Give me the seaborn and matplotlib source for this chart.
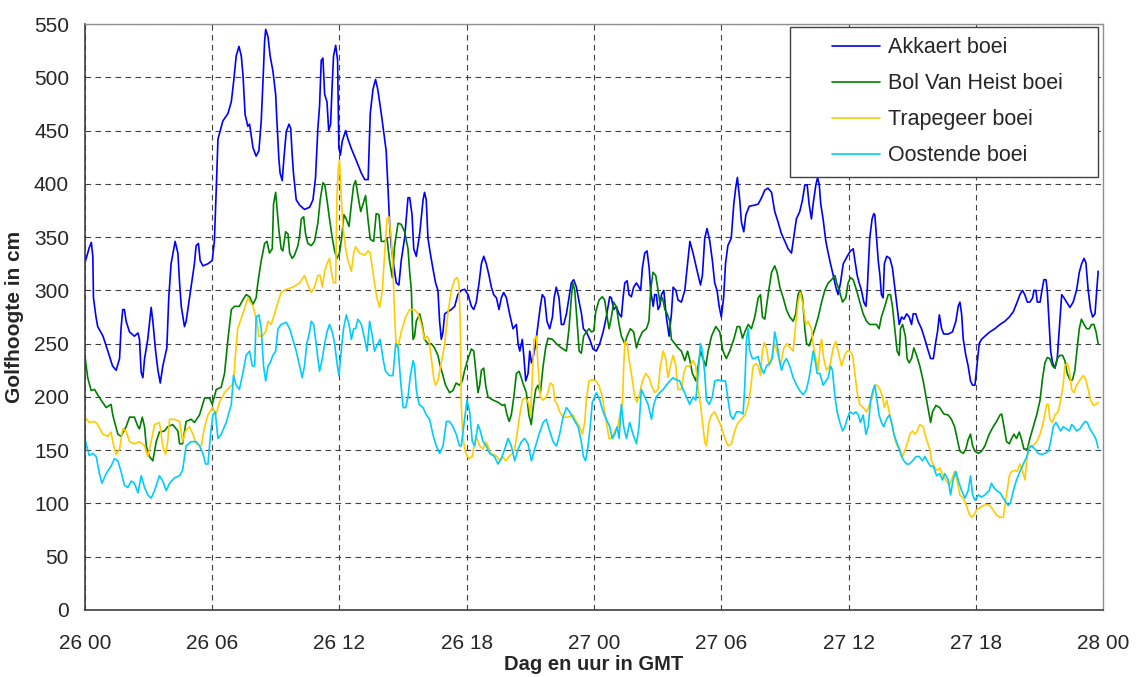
import pandas as pd
import matplotlib
matplotlib.use("Agg")
import matplotlib.pyplot as plt
from matplotlib.patches import Rectangle
import seaborn as sns

# uren sinds 26 00 GMT en golfhoogte (cm)
akkaert_uur = [0.0, 0.2, 0.3, 0.37, 0.4, 0.52, 0.6, 0.85, 1.08, 1.3, 1.47, 1.63, 1.7, 1.78, 1.86, 1.94, 2.1, 2.33, 2.5, 2.57,
               2.65, 2.73, 2.81, 2.96, 3.12, 3.2, 3.33, 3.44, 3.55, 3.67, 3.86, 3.95, 4.06, 4.25, 4.38, 4.46, 4.54, 4.69, 4.77, 4.93,
               5.16, 5.24, 5.35, 5.43, 5.56, 5.8, 6.0, 6.1, 6.19, 6.27, 6.5, 6.74, 6.9, 7.02, 7.13, 7.26, 7.37, 7.45, 7.55, 7.68,
               7.76, 7.92, 8.07, 8.2, 8.31, 8.39, 8.47, 8.52, 8.63, 8.73, 8.86, 8.99, 9.05, 9.14, 9.2, 9.3, 9.38, 9.49, 9.62, 9.7,
               9.77, 9.83, 9.96, 10.12, 10.35, 10.59, 10.75, 10.87, 10.98, 11.06, 11.14, 11.22, 11.3, 11.41, 11.49, 11.58, 11.66, 11.72, 11.82, 11.91,
               11.97, 12.04, 12.13, 12.29, 12.4, 12.56, 12.79, 13.03, 13.19, 13.35, 13.45, 13.58, 13.7, 13.81, 13.97, 14.08, 14.2, 14.28, 14.36, 14.44,
               14.57, 14.68, 14.8, 14.91, 15.07, 15.23, 15.31, 15.42, 15.5, 15.62, 15.78, 15.94, 16.01, 16.09, 16.17, 16.28, 16.4, 16.53, 16.64, 16.72,
               16.8, 16.88, 16.96, 17.11, 17.27, 17.43, 17.58, 17.74, 17.9, 18.06, 18.22, 18.33, 18.45, 18.58, 18.69, 18.8, 18.92, 19.05, 19.16, 19.27,
               19.4, 19.52, 19.63, 19.74, 19.87, 20.02, 20.18, 20.34, 20.42, 20.5, 20.62, 20.7, 20.78, 20.89, 20.97, 21.05, 21.12, 21.25, 21.36, 21.47,
               21.56, 21.67, 21.78, 21.91, 22.04, 22.12, 22.22, 22.35, 22.46, 22.57, 22.7, 22.82, 22.93, 23.04, 23.17, 23.3, 23.41, 23.5, 23.64, 23.8,
               23.95, 24.11, 24.27, 24.43, 24.58, 24.74, 24.82, 24.93, 25.05, 25.18, 25.29, 25.37, 25.45, 25.56, 25.65, 25.76, 25.87, 26.0, 26.12, 26.2,
               26.28, 26.39, 26.5, 26.6, 26.67, 26.79, 26.86, 26.94, 27.02, 27.1, 27.18, 27.29, 27.41, 27.54, 27.65, 27.73, 27.86, 27.96, 28.12, 28.28,
               28.39, 28.52, 28.67, 28.83, 29.02, 29.11, 29.22, 29.33, 29.46, 29.58, 29.69, 29.8, 29.9, 30.0, 30.11, 30.2, 30.31, 30.47, 30.59, 30.68,
               30.76, 30.87, 30.95, 31.06, 31.16, 31.32, 31.58, 31.74, 31.9, 32.05, 32.2, 32.37, 32.52, 32.68, 32.84, 33.0, 33.15, 33.31, 33.39, 33.54,
               33.7, 33.83, 33.94, 34.05, 34.14, 34.25, 34.33, 34.46, 34.54, 34.62, 34.69, 34.8, 34.93, 35.04, 35.15, 35.28, 35.4, 35.51, 35.62, 35.75,
               35.94, 36.09, 36.22, 36.3, 36.41, 36.5, 36.61, 36.72, 36.82, 36.88, 37.0, 37.11, 37.19, 37.24, 37.32, 37.4, 37.48, 37.55, 37.63, 37.69,
               37.8, 37.95, 38.07, 38.18, 38.29, 38.39, 38.5, 38.61, 38.74, 38.86, 38.97, 39.05, 39.17, 39.28, 39.44, 39.6, 39.76, 39.87, 40.0, 40.1,
               40.2, 40.28, 40.39, 40.49, 40.7, 40.9, 41.06, 41.17, 41.25, 41.33, 41.41, 41.53, 41.64, 41.75, 41.85, 41.96, 42.07, 42.16, 42.27, 42.43,
               42.66, 42.9, 43.14, 43.37, 43.58, 43.77, 43.95, 44.08, 44.2, 44.31, 44.43, 44.55, 44.68, 44.74, 44.83, 44.9, 45.03, 45.12, 45.21, 45.31,
               45.37, 45.45, 45.53, 45.62, 45.73, 45.84, 45.94, 46.05, 46.16, 46.28, 46.44, 46.59, 46.75, 46.88, 46.99, 47.1, 47.19, 47.3, 47.41, 47.51,
               47.62, 47.7, 47.77]
akkaert_cm = [326, 340, 345, 332, 293, 275, 266, 257, 243, 229, 225, 236, 264, 282, 282, 271, 261, 257, 260, 254,
              223, 218, 236, 254, 284, 271, 243, 225, 213, 229, 246, 293, 325, 346, 335, 307, 285, 266, 271, 293,
              325, 342, 344, 328, 323, 325, 328, 346, 395, 442, 459, 466, 477, 498, 520, 529, 520, 502, 465, 454,
              456, 434, 426, 431, 459, 495, 534, 545, 538, 520, 506, 484, 459, 424, 410, 403, 424, 449, 456, 452,
              427, 410, 385, 380, 376, 378, 385, 406, 452, 473, 516, 518, 484, 477, 450, 456, 495, 520, 530, 516,
              434, 427, 440, 450, 442, 433, 422, 410, 404, 404, 466, 489, 498, 488, 466, 449, 431, 399, 364, 342,
              321, 307, 305, 328, 349, 387, 387, 371, 339, 332, 353, 385, 392, 385, 349, 335, 321, 307, 300, 271,
              254, 261, 278, 280, 282, 285, 296, 300, 301, 296, 285, 282, 289, 307, 325, 332, 325, 314, 303, 296,
              293, 282, 293, 298, 293, 278, 264, 268, 250, 243, 254, 236, 215, 222, 243, 232, 236, 250, 268, 285,
              296, 293, 271, 264, 275, 293, 303, 293, 268, 268, 278, 293, 307, 310, 303, 289, 278, 264, 261, 254,
              245, 243, 250, 261, 275, 294, 293, 282, 285, 278, 275, 293, 307, 309, 296, 294, 303, 307, 303, 300,
              321, 335, 337, 321, 300, 285, 296, 296, 282, 285, 296, 300, 275, 257, 278, 303, 300, 291, 289, 300,
              321, 346, 335, 321, 305, 314, 349, 358, 346, 328, 307, 300, 285, 275, 293, 325, 342, 349, 381, 396,
              406, 385, 364, 355, 371, 379, 380, 381, 387, 394, 396, 392, 374, 364, 353, 346, 339, 335, 346, 367,
              374, 385, 399, 399, 381, 367, 381, 399, 406, 399, 381, 367, 346, 335, 325, 314, 303, 296, 307, 325,
              332, 337, 339, 328, 314, 307, 300, 289, 285, 300, 349, 367, 372, 371, 349, 328, 314, 296, 293, 325,
              332, 330, 321, 303, 285, 268, 275, 273, 278, 275, 268, 278, 278, 271, 264, 254, 243, 236, 236, 250,
              262, 277, 264, 259, 259, 261, 271, 285, 289, 278, 254, 239, 229, 215, 211, 211, 232, 250, 254, 257,
              261, 264, 268, 271, 275, 280, 289, 296, 300, 296, 289, 289, 293, 300, 300, 289, 289, 300, 310, 310,
              300, 271, 243, 232, 227, 236, 264, 296, 293, 289, 284, 289, 300, 317, 325, 330, 326, 300, 282, 275,
              278, 300, 318]

bolvanheist_uur = [0.0, 0.13, 0.29, 0.45, 0.6, 0.76, 1.0, 1.23, 1.31, 1.55, 1.7, 1.94, 2.1, 2.33, 2.5, 2.57, 2.7, 2.81, 2.89, 3.04,
                   3.2, 3.36, 3.51, 3.75, 3.9, 4.14, 4.38, 4.46, 4.6, 4.77, 5.0, 5.16, 5.4, 5.64, 5.87, 6.0, 6.19, 6.42, 6.58, 6.74,
                   6.9, 7.05, 7.28, 7.44, 7.6, 7.76, 7.92, 8.07, 8.15, 8.31, 8.47, 8.58, 8.7, 8.83, 8.89, 8.99, 9.05, 9.14, 9.25, 9.33,
                   9.46, 9.57, 9.65, 9.77, 9.88, 10.04, 10.12, 10.2, 10.31, 10.4, 10.51, 10.67, 10.82, 10.98, 11.09, 11.22, 11.31, 11.41, 11.53, 11.66,
                   11.77, 11.88, 12.0, 12.1, 12.21, 12.32, 12.45, 12.56, 12.67, 12.76, 12.87, 13.0, 13.11, 13.23, 13.34, 13.45, 13.61, 13.73, 13.86, 13.97,
                   14.13, 14.24, 14.36, 14.49, 14.6, 14.76, 14.91, 15.07, 15.23, 15.31, 15.39, 15.43, 15.47, 15.54, 15.62, 15.78, 15.9, 16.01, 16.17, 16.33,
                   16.48, 16.64, 16.75, 16.85, 17.0, 17.19, 17.35, 17.5, 17.66, 17.79, 17.9, 18.06, 18.22, 18.33, 18.42, 18.53, 18.61, 18.69, 18.8, 18.89,
                   19.0, 19.24, 19.47, 19.68, 19.79, 19.9, 20.0, 20.1, 20.22, 20.34, 20.47, 20.57, 20.68, 20.81, 20.93, 21.04, 21.15, 21.25, 21.36, 21.47,
                   21.6, 21.72, 21.83, 22.04, 22.22, 22.46, 22.7, 22.82, 22.93, 23.0, 23.09, 23.2, 23.3, 23.4, 23.51, 23.64, 23.76, 23.88, 23.99, 24.08,
                   24.24, 24.39, 24.5, 24.62, 24.71, 24.82, 24.93, 25.06, 25.18, 25.29, 25.45, 25.56, 25.71, 25.87, 26.0, 26.12, 26.28, 26.47, 26.59, 26.67,
                   26.78, 26.91, 27.02, 27.1, 27.23, 27.34, 27.45, 27.57, 27.65, 27.81, 27.96, 28.12, 28.28, 28.41, 28.5, 28.64, 28.8, 28.91, 29.02, 29.14,
                   29.27, 29.38, 29.54, 29.74, 29.93, 30.08, 30.24, 30.4, 30.59, 30.75, 30.87, 31.0, 31.11, 31.27, 31.42, 31.58, 31.74, 31.85, 31.94, 32.05,
                   32.21, 32.37, 32.52, 32.63, 32.76, 32.92, 33.07, 33.23, 33.39, 33.51, 33.62, 33.73, 33.83, 33.94, 34.02, 34.14, 34.25, 34.41, 34.57, 34.73,
                   34.88, 35.04, 35.2, 35.36, 35.44, 35.56, 35.72, 35.87, 35.98, 36.09, 36.22, 36.38, 36.53, 36.69, 36.85, 37.0, 37.16, 37.32, 37.44, 37.55,
                   37.71, 37.87, 37.98, 38.07, 38.18, 38.29, 38.39, 38.45, 38.55, 38.68, 38.76, 38.86, 38.97, 39.08, 39.21, 39.36, 39.52, 39.68, 39.81, 39.87,
                   39.96, 40.12, 40.3, 40.49, 40.7, 40.85, 41.0, 41.12, 41.25, 41.41, 41.53, 41.64, 41.75, 41.85, 41.96, 42.12, 42.27, 42.43, 42.63, 42.82,
                   42.98, 43.14, 43.22, 43.33, 43.45, 43.58, 43.69, 43.8, 43.92, 44.05, 44.16, 44.27, 44.43, 44.55, 44.71, 44.87, 45.03, 45.15, 45.26, 45.37,
                   45.49, 45.62, 45.73, 45.84, 45.97, 46.09, 46.2, 46.31, 46.44, 46.56, 46.67, 46.78, 46.88, 46.98, 47.1, 47.23, 47.35, 47.46, 47.57, 47.67,
                   47.77]
bolvanheist_cm = [238, 218, 206, 207, 202, 197, 190, 193, 183, 165, 163, 172, 181, 181, 172, 170, 181, 172, 154, 144,
                  140, 158, 167, 168, 172, 174, 168, 156, 156, 177, 179, 176, 183, 199, 199, 193, 207, 209, 222, 254,
                  282, 285, 285, 291, 296, 294, 287, 293, 307, 328, 344, 346, 335, 339, 381, 392, 378, 357, 339, 337,
                  355, 353, 335, 330, 333, 342, 351, 367, 369, 353, 344, 342, 346, 363, 385, 401, 399, 385, 367, 349,
                  337, 330, 335, 349, 371, 367, 360, 381, 399, 403, 389, 374, 381, 389, 367, 348, 346, 372, 371, 346,
                  346, 349, 328, 312, 342, 363, 362, 355, 339, 317, 300, 271, 254, 257, 271, 278, 268, 254, 250, 250,
                  246, 239, 229, 222, 211, 204, 206, 213, 211, 215, 225, 236, 245, 243, 225, 204, 211, 225, 227, 211,
                  200, 197, 195, 192, 193, 183, 177, 183, 200, 222, 224, 218, 211, 204, 183, 174, 193, 207, 211, 204,
                  229, 246, 255, 254, 250, 246, 243, 264, 293, 307, 300, 271, 243, 241, 257, 261, 264, 261, 262, 280,
                  291, 294, 291, 275, 264, 275, 289, 284, 268, 257, 250, 257, 264, 261, 246, 254, 261, 264, 271, 300,
                  317, 314, 300, 289, 293, 282, 278, 271, 254, 250, 246, 243, 234, 243, 236, 222, 215, 229, 243, 236,
                  229, 243, 257, 266, 261, 243, 236, 243, 254, 266, 266, 255, 261, 268, 264, 275, 293, 296, 275, 273,
                  296, 317, 323, 317, 303, 293, 282, 275, 271, 278, 296, 300, 293, 264, 250, 248, 254, 264, 275, 289,
                  300, 307, 310, 314, 307, 300, 289, 293, 307, 312, 310, 300, 289, 278, 271, 268, 268, 268, 264, 275,
                  285, 296, 296, 285, 264, 243, 239, 264, 268, 257, 236, 232, 236, 246, 239, 229, 215, 197, 183, 176,
                  186, 192, 190, 184, 183, 179, 172, 161, 149, 147, 151, 160, 165, 154, 149, 147, 149, 154, 165, 172,
                  177, 183, 184, 172, 158, 156, 161, 165, 161, 167, 160, 151, 151, 161, 172, 183, 197, 218, 232, 237,
                  236, 229, 227, 236, 239, 239, 234, 222, 216, 216, 225, 246, 264, 273, 268, 264, 264, 268, 268, 261,
                  250]

trapegeer_uur = [0.0, 0.2, 0.45, 0.6, 0.84, 1.08, 1.23, 1.31, 1.47, 1.63, 1.78, 1.94, 2.1, 2.33, 2.57, 2.81, 2.96, 3.12, 3.28, 3.51,
                 3.67, 3.8, 3.9, 3.99, 4.22, 4.46, 4.6, 4.74, 4.93, 5.09, 5.24, 5.48, 5.64, 5.8, 6.0, 6.19, 6.34, 6.58, 6.9, 7.0,
                 7.08, 7.2, 7.44, 7.68, 7.92, 8.11, 8.2, 8.36, 8.52, 8.63, 8.78, 8.94, 9.1, 9.25, 9.49, 9.8, 10.12, 10.35, 10.51, 10.67,
                 10.82, 10.98, 11.09, 11.19, 11.3, 11.41, 11.53, 11.61, 11.72, 11.82, 11.88, 11.94, 12.0, 12.08, 12.16, 12.29, 12.4, 12.56, 12.67, 12.76,
                 12.95, 13.19, 13.35, 13.45, 13.55, 13.65, 13.76, 13.89, 14.02, 14.13, 14.24, 14.33, 14.44, 14.52, 14.6, 14.68, 14.76, 14.91, 15.12, 15.31,
                 15.54, 15.7, 15.86, 16.01, 16.12, 16.22, 16.33, 16.44, 16.53, 16.64, 16.8, 16.96, 17.11, 17.27, 17.43, 17.54, 17.63, 17.7, 17.74, 17.82,
                 17.95, 18.1, 18.26, 18.37, 18.48, 18.61, 18.77, 18.89, 19.0, 19.11, 19.27, 19.43, 19.55, 19.68, 19.84, 19.99, 20.15, 20.26, 20.37, 20.5,
                 20.62, 20.73, 20.84, 20.93, 21.01, 21.1, 21.17, 21.28, 21.36, 21.47, 21.6, 21.72, 21.83, 21.94, 22.07, 22.15, 22.26, 22.38, 22.54, 22.78,
                 23.01, 23.17, 23.32, 23.45, 23.56, 23.64, 23.76, 23.92, 24.08, 24.23, 24.39, 24.5, 24.62, 24.71, 24.82, 24.98, 25.13, 25.24, 25.34, 25.4,
                 25.46, 25.56, 25.65, 25.76, 25.92, 26.03, 26.16, 26.28, 26.44, 26.6, 26.7, 26.86, 27.02, 27.13, 27.26, 27.38, 27.49, 27.6, 27.73, 27.86,
                 27.96, 28.12, 28.23, 28.35, 28.51, 28.67, 28.8, 28.91, 29.02, 29.14, 29.22, 29.3, 29.42, 29.54, 29.69, 29.85, 30.0, 30.17, 30.32, 30.48,
                 30.63, 30.79, 30.95, 31.11, 31.27, 31.38, 31.5, 31.63, 31.74, 31.85, 31.94, 32.03, 32.14, 32.26, 32.37, 32.52, 32.68, 32.79, 32.95, 33.1,
                 33.26, 33.39, 33.51, 33.62, 33.73, 33.86, 33.98, 34.09, 34.25, 34.33, 34.46, 34.57, 34.65, 34.73, 34.83, 34.96, 35.12, 35.28, 35.4, 35.51,
                 35.67, 35.82, 35.93, 36.06, 36.19, 36.3, 36.41, 36.53, 36.69, 36.85, 37.0, 37.13, 37.24, 37.35, 37.48, 37.6, 37.69, 37.8, 37.95, 38.07,
                 38.18, 38.29, 38.42, 38.55, 38.68, 38.79, 38.89, 39.02, 39.13, 39.24, 39.36, 39.52, 39.6, 39.71, 39.83, 39.91, 40.07, 40.15, 40.3, 40.46,
                 40.62, 40.75, 40.86, 41.0, 41.12, 41.25, 41.41, 41.56, 41.69, 41.8, 41.91, 42.04, 42.2, 42.35, 42.5, 42.66, 42.82, 42.98, 43.14, 43.3,
                 43.37, 43.45, 43.58, 43.69, 43.84, 43.95, 44.08, 44.2, 44.32, 44.4, 44.52, 44.71, 44.87, 45.03, 45.18, 45.34, 45.42, 45.49, 45.62, 45.73,
                 45.89, 46.0, 46.12, 46.2, 46.31, 46.41, 46.52, 46.63, 46.75, 46.91, 47.07, 47.19, 47.3, 47.41, 47.54, 47.67, 47.77]
trapegeer_cm = [181, 176, 177, 174, 165, 163, 167, 158, 146, 151, 170, 168, 158, 156, 158, 154, 144, 158, 174, 176,
                154, 146, 158, 179, 179, 177, 158, 168, 172, 165, 156, 154, 172, 183, 190, 184, 195, 204, 211, 211,
                236, 264, 278, 293, 285, 271, 257, 257, 261, 271, 268, 278, 289, 298, 301, 303, 307, 314, 305, 298,
                303, 314, 314, 303, 318, 325, 330, 318, 307, 307, 389, 413, 422, 389, 360, 339, 328, 318, 335, 341,
                335, 333, 337, 335, 321, 307, 293, 284, 300, 335, 367, 369, 349, 321, 275, 247, 247, 261, 275, 282,
                282, 278, 268, 254, 257, 254, 236, 218, 211, 215, 232, 250, 278, 300, 310, 312, 307, 264, 193, 161,
                147, 142, 144, 158, 161, 154, 151, 158, 154, 147, 146, 144, 140, 144, 140, 144, 147, 151, 165, 183,
                197, 199, 197, 193, 183, 222, 254, 257, 229, 200, 197, 199, 204, 213, 211, 197, 193, 186, 181, 181,
                183, 177, 172, 165, 176, 197, 215, 216, 215, 211, 200, 186, 172, 161, 161, 168, 172, 186, 193, 229,
                252, 250, 236, 222, 200, 195, 204, 215, 222, 218, 211, 204, 207, 229, 243, 236, 218, 229, 239, 229,
                207, 207, 222, 229, 229, 234, 229, 207, 193, 172, 158, 154, 176, 183, 186, 179, 172, 161, 154, 156,
                168, 176, 179, 183, 193, 207, 229, 231, 229, 220, 243, 251, 245, 229, 236, 250, 239, 229, 246, 250,
                246, 243, 268, 289, 298, 285, 268, 271, 264, 250, 236, 225, 246, 254, 236, 225, 229, 246, 252, 243,
                229, 239, 243, 243, 239, 222, 204, 193, 190, 186, 193, 200, 211, 211, 207, 200, 190, 197, 183, 172,
                161, 154, 151, 144, 151, 158, 165, 168, 165, 168, 174, 172, 165, 158, 151, 140, 134, 131, 133, 126,
                121, 117, 122, 130, 121, 108, 105, 98, 90, 87, 89, 94, 96, 98, 99, 98, 94, 89, 87, 87,
                98, 108, 126, 130, 131, 130, 137, 131, 122, 140, 154, 154, 158, 165, 176, 193, 193, 179, 176, 183,
                186, 197, 211, 229, 232, 225, 207, 204, 211, 216, 220, 216, 207, 197, 192, 193, 195]

oostende_uur = [0.0, 0.2, 0.37, 0.53, 0.68, 0.8, 1.0, 1.23, 1.39, 1.55, 1.7, 1.86, 2.02, 2.18, 2.33, 2.5, 2.65, 2.81, 2.96, 3.12,
                3.28, 3.51, 3.67, 3.83, 3.99, 4.22, 4.46, 4.6, 4.77, 5.0, 5.24, 5.4, 5.56, 5.69, 5.8, 5.92, 6.03, 6.14, 6.27, 6.42,
                6.66, 6.9, 7.0, 7.13, 7.28, 7.44, 7.6, 7.76, 7.89, 8.0, 8.07, 8.2, 8.31, 8.42, 8.52, 8.63, 8.73, 8.86, 8.99, 9.1,
                9.25, 9.49, 9.65, 9.8, 9.96, 10.12, 10.24, 10.35, 10.46, 10.59, 10.67, 10.78, 10.9, 10.98, 11.06, 11.19, 11.3, 11.41, 11.53, 11.66,
                11.77, 11.88, 11.97, 12.08, 12.19, 12.32, 12.45, 12.56, 12.67, 12.76, 12.87, 13.03, 13.19, 13.3, 13.42, 13.55, 13.65, 13.81, 13.92, 14.05,
                14.17, 14.36, 14.52, 14.65, 14.76, 14.87, 15.0, 15.12, 15.23, 15.34, 15.47, 15.54, 15.62, 15.75, 15.94, 16.09, 16.25, 16.4, 16.56, 16.72,
                16.88, 17.04, 17.19, 17.35, 17.5, 17.66, 17.74, 17.9, 18.01, 18.14, 18.26, 18.37, 18.53, 18.64, 18.77, 18.92, 19.08, 19.31, 19.47, 19.63,
                19.79, 19.95, 20.1, 20.26, 20.42, 20.58, 20.73, 20.89, 21.05, 21.2, 21.41, 21.6, 21.75, 21.91, 22.07, 22.23, 22.38, 22.54, 22.7, 22.85,
                23.04, 23.25, 23.4, 23.5, 23.6, 23.72, 23.82, 23.92, 24.11, 24.27, 24.43, 24.58, 24.74, 24.86, 24.98, 25.09, 25.18, 25.29, 25.4, 25.53,
                25.68, 25.84, 26.0, 26.12, 26.23, 26.39, 26.55, 26.71, 26.82, 26.94, 27.1, 27.26, 27.41, 27.57, 27.73, 27.88, 28.04, 28.2, 28.36, 28.51,
                28.67, 28.8, 28.91, 29.02, 29.11, 29.22, 29.3, 29.43, 29.58, 29.69, 29.85, 30.0, 30.2, 30.32, 30.43, 30.56, 30.72, 30.87, 31.03, 31.11,
                31.19, 31.27, 31.34, 31.47, 31.58, 31.74, 31.85, 32.0, 32.13, 32.29, 32.4, 32.52, 32.63, 32.73, 32.84, 32.95, 33.07, 33.23, 33.39, 33.55,
                33.7, 33.86, 34.02, 34.14, 34.25, 34.33, 34.41, 34.52, 34.65, 34.8, 34.93, 35.04, 35.15, 35.24, 35.36, 35.46, 35.59, 35.72, 35.83, 35.93,
                36.06, 36.22, 36.35, 36.46, 36.56, 36.69, 36.82, 36.93, 37.04, 37.16, 37.24, 37.32, 37.44, 37.55, 37.66, 37.79, 37.92, 38.03, 38.14, 38.26,
                38.39, 38.5, 38.61, 38.74, 38.86, 39.02, 39.18, 39.33, 39.49, 39.6, 39.76, 39.87, 40.0, 40.15, 40.3, 40.43, 40.54, 40.7, 40.81, 40.93,
                41.06, 41.17, 41.33, 41.49, 41.64, 41.75, 41.85, 41.96, 42.12, 42.27, 42.43, 42.63, 42.74, 42.85, 42.98, 43.14, 43.3, 43.42, 43.53, 43.64,
                43.77, 43.92, 44.08, 44.24, 44.4, 44.52, 44.63, 44.79, 44.94, 45.1, 45.26, 45.42, 45.53, 45.65, 45.78, 45.89, 46.0, 46.12, 46.28, 46.41,
                46.52, 46.63, 46.75, 46.91, 47.04, 47.15, 47.26, 47.38, 47.54, 47.67, 47.77]
oostende_cm = [160, 145, 147, 144, 128, 119, 128, 135, 142, 140, 130, 117, 115, 121, 119, 110, 126, 115, 108, 105,
               112, 126, 121, 112, 119, 124, 126, 131, 154, 158, 158, 154, 147, 137, 137, 165, 183, 186, 161, 165,
               176, 193, 220, 211, 207, 222, 239, 243, 229, 229, 275, 277, 264, 229, 215, 229, 232, 239, 243, 264,
               268, 270, 264, 254, 243, 229, 218, 229, 250, 261, 271, 268, 250, 236, 224, 236, 250, 261, 268, 261,
               250, 232, 220, 243, 264, 277, 268, 254, 264, 264, 273, 268, 254, 243, 271, 257, 243, 250, 254, 236,
               224, 220, 220, 250, 247, 218, 190, 190, 200, 220, 234, 229, 207, 193, 190, 183, 179, 165, 154, 147,
               154, 177, 177, 172, 165, 154, 154, 179, 197, 186, 158, 154, 174, 168, 158, 154, 147, 144, 137, 142,
               151, 161, 154, 140, 151, 158, 161, 156, 140, 151, 165, 176, 179, 168, 158, 154, 165, 181, 190, 186,
               179, 172, 158, 144, 140, 154, 172, 195, 204, 197, 186, 179, 172, 161, 165, 172, 161, 193, 172, 161,
               176, 165, 156, 172, 207, 200, 193, 179, 193, 200, 204, 207, 211, 215, 218, 216, 215, 207, 200, 193,
               200, 197, 222, 250, 243, 222, 197, 193, 200, 215, 216, 215, 215, 197, 183, 179, 186, 186, 184, 211,
               254, 264, 243, 236, 236, 238, 229, 222, 229, 232, 236, 261, 250, 236, 225, 232, 236, 229, 218, 211,
               206, 202, 207, 218, 232, 243, 236, 222, 222, 211, 215, 218, 229, 225, 200, 186, 176, 168, 172, 179,
               186, 184, 186, 183, 176, 183, 165, 172, 197, 207, 211, 200, 183, 176, 172, 179, 183, 176, 165, 158,
               151, 144, 140, 137, 137, 140, 144, 144, 140, 144, 138, 135, 135, 126, 128, 122, 128, 122, 108, 122,
               130, 122, 112, 105, 112, 126, 108, 103, 108, 106, 108, 112, 119, 115, 112, 110, 105, 101, 98, 101,
               112, 122, 130, 137, 144, 152, 154, 151, 147, 146, 147, 149, 158, 172, 176, 172, 168, 172, 170, 168,
               174, 172, 168, 170, 174, 177, 176, 170, 165, 160, 152]

namen = ["Akkaert boei", "Bol Van Heist boei", "Trapegeer boei", "Oostende boei"]
kleuren = ["#0000FF", "#008000", "#FFCC00", "#00CCFF"]
tick_uren = [0, 6, 12, 18, 24, 30, 36, 42, 48]
tick_labels = ["26 00", "26 06", "26 12", "26 18", "27 00", "27 06", "27 12", "27 18", "28 00"]

reeksen = [(akkaert_uur, akkaert_cm), (bolvanheist_uur, bolvanheist_cm),
           (trapegeer_uur, trapegeer_cm), (oostende_uur, oostende_cm)]
frames = []
for naam, (uur, cm) in zip(namen, reeksen):
    frames.append(pd.DataFrame({"uur": uur, "cm": cm, "boei": naam}))
df = pd.concat(frames, ignore_index=True)

sns.set_style("white")
plt.rcParams["font.family"] = ["Liberation Sans", "DejaVu Sans"]

fig = plt.figure(figsize=(11.36, 6.77), dpi=100)
ax = fig.add_axes([0.0748, 0.099, 0.8962, 0.8655])

sns.lineplot(data=df, x="uur", y="cm", hue="boei", hue_order=namen, palette=kleuren,
             estimator=None, sort=False, linewidth=1.2, ax=ax)

ax.set_xlim(0, 48)
ax.set_ylim(0, 550)
ax.set_xticks(tick_uren)
ax.set_xticklabels(tick_labels)
ax.set_yticks(range(0, 551, 50))
ax.tick_params(axis="both", labelsize=15, direction="out", length=4.5, color="#404040", pad=7)
ax.tick_params(axis="x", pad=13)
ax.grid(True, color="#404040", linestyle=(0, (5, 4)), linewidth=0.8)

ax.set_xlabel("Dag en uur in GMT", fontsize=14.5, fontweight="bold", labelpad=1)
ax.set_ylabel("Golfhoogte in cm", fontsize=15, fontweight="bold", labelpad=7)

for kant in ["left", "bottom"]:
    ax.spines[kant].set_color("#404040")
    ax.spines[kant].set_linewidth(1.2)
for kant in ["top", "right"]:
    ax.spines[kant].set_color("#909090")
    ax.spines[kant].set_linewidth(1.0)

# legendekader zoals in het origineel, met ruime marge links
kader = Rectangle((0.6925, 0.7389), 0.3026, 0.256, transform=ax.transAxes, facecolor="white",
                  edgecolor="#404040", linewidth=1.0, zorder=4)
ax.add_patch(kader)

handles, labels = ax.get_legend_handles_labels()
leg = ax.legend(handles, labels, loc="upper left", bbox_to_anchor=(0.7338, 0.9775), borderaxespad=0,
                fontsize=15.5, frameon=False, handlelength=2.25, labelspacing=0.7,
                borderpad=0, handletextpad=0.33)
leg.set_zorder(5)
for lijn in leg.get_lines():
    lijn.set_linewidth(1.2)

fig.savefig("out.png", dpi=100)
